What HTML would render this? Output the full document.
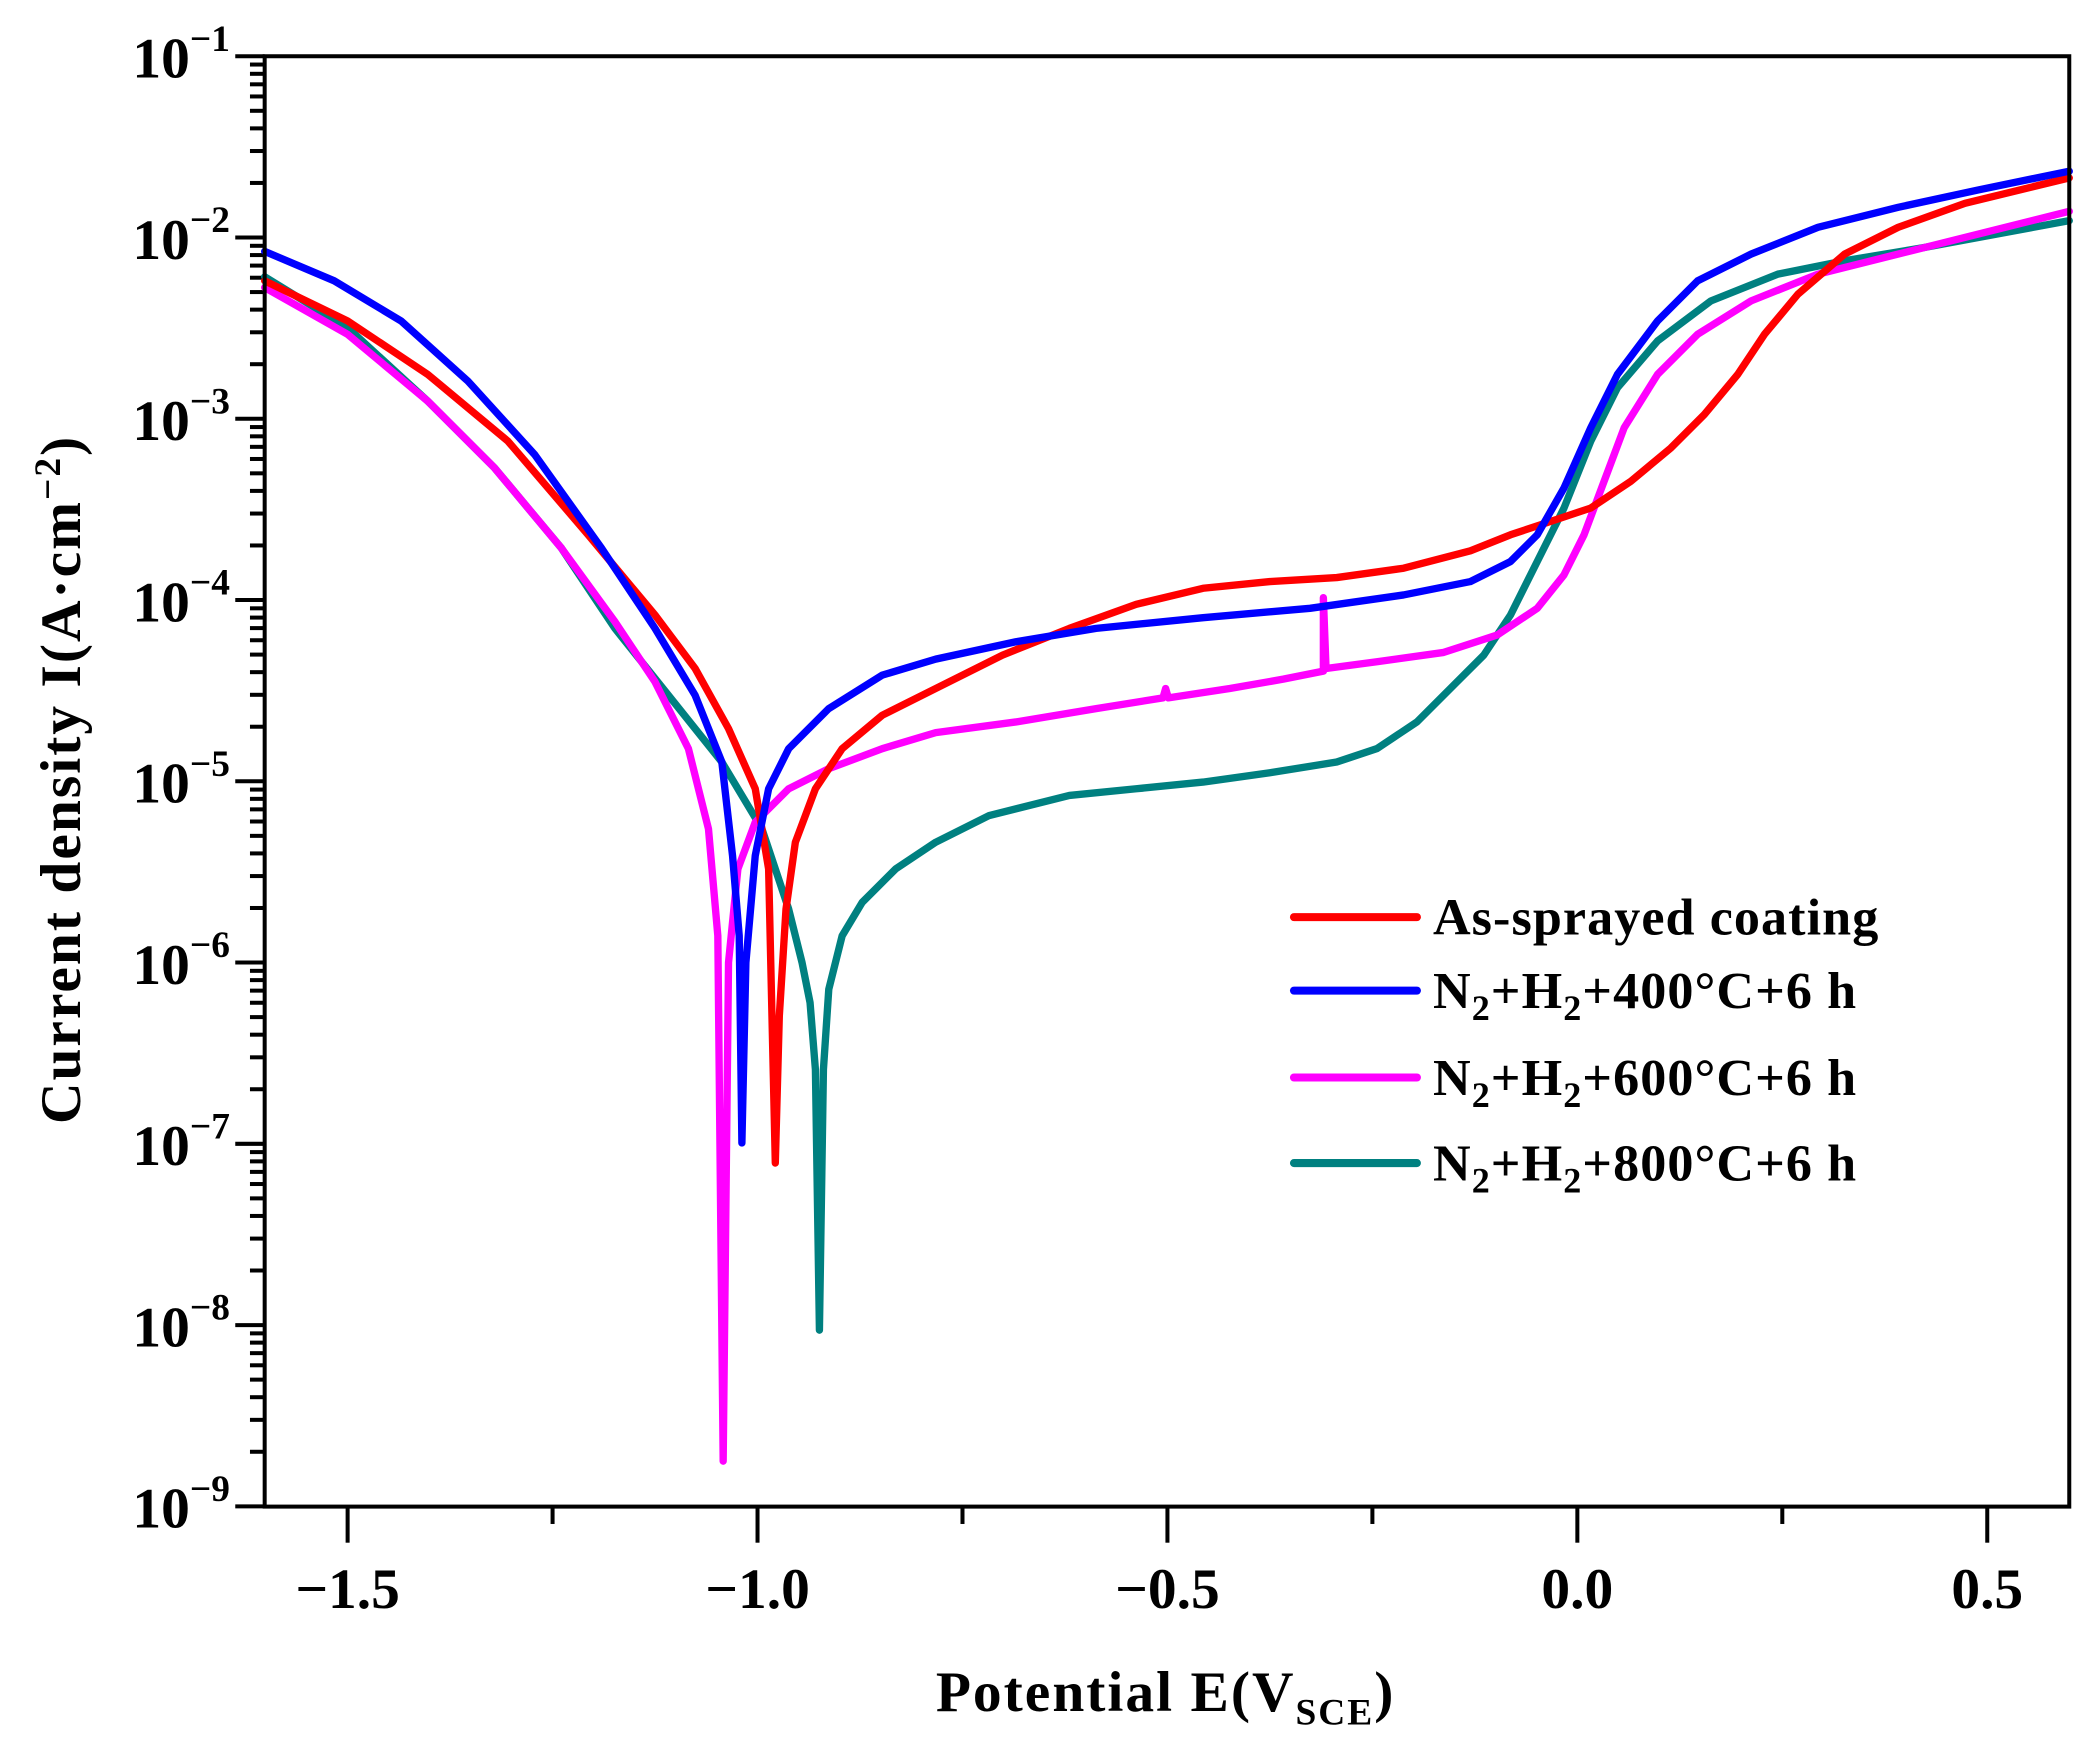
<!DOCTYPE html>
<html><head><meta charset="utf-8"><style>
html,body{margin:0;padding:0;background:#fff;}
svg{display:block;}
text{font-family:"Liberation Serif",serif;font-weight:bold;fill:#000;}
</style></head><body>
<svg id="s" width="2096" height="1754" viewBox="0 0 1568 1312" xmlns="http://www.w3.org/2000/svg">
<g id="ticks" stroke="#000" stroke-width="3"></g>
<g fill="none" stroke-width="5.5" stroke-linejoin="round" stroke-linecap="round">
<polyline stroke="#008080" points="198,207 260,245 320,300 370,350 420,410 460,470 500,520 540,570 570,620 590,680 600,720 606,750 610,800 613,995 616,800 620,740 630,700 645,675 670,650 700,630 740,610 800,595 850,590 900,585 950,578 1000,570 1030,560 1060,540 1090,510 1110,490 1130,460 1150,420 1170,380 1190,330 1210,290 1240,255 1280,225 1330,205 1380,195 1440,185 1548,165"/>
<polyline stroke="#ff00ff" points="198,215 260,250 320,300 370,350 420,410 460,465 490,510 515,560 530,620 537,700 541,1093 545,720 552,650 565,615 590,590 620,575 660,560 700,548 760,540 820,530 870,522 872,515 874,522 920,515 960,508 990,502 990,447 992,500 1030,495 1080,488 1120,475 1150,455 1170,430 1185,400 1200,360 1215,320 1240,280 1270,250 1310,225 1360,205 1420,190 1548,158"/>
<polyline stroke="#ff0000" points="198,210 260,240 320,280 380,330 440,400 490,460 520,500 545,545 565,590 575,650 580,870 583,760 588,680 595,630 610,590 630,560 660,535 700,515 750,490 800,470 850,452 900,440 950,435 1000,432 1050,425 1100,412 1130,400 1160,390 1190,380 1220,360 1250,335 1275,310 1300,280 1320,250 1345,220 1380,190 1420,170 1470,152 1548,133"/>
<polyline stroke="#0000ff" points="198,188 250,210 300,240 350,285 400,340 450,410 490,470 520,520 540,570 548,640 553,700 555,855 558,720 565,640 575,590 590,560 620,530 660,505 700,493 760,480 820,470 900,462 980,455 1050,445 1100,435 1130,420 1150,400 1170,365 1190,320 1210,280 1240,240 1270,210 1310,190 1360,170 1420,155 1480,142 1548,128"/>
</g>
<rect x="198" y="42" width="1350" height="1085" fill="none" stroke="#000" stroke-width="3"/>
<g id="labels"></g>
<text transform="translate(60,583) rotate(-90)" text-anchor="middle" font-size="43" letter-spacing="1.5">Current density I(A·cm<tspan dy="-15" font-size="28">−2</tspan><tspan dy="15">)</tspan></text>
<text x="872" y="1280" text-anchor="middle" font-size="43" letter-spacing="1.5">Potential E(V<tspan dy="10" font-size="28">SCE</tspan><tspan dy="-10">)</tspan></text>
<g stroke-width="6" stroke-linecap="round">
<line x1="968" y1="686" x2="1060" y2="686" stroke="#ff0000"/>
<line x1="968" y1="741" x2="1060" y2="741" stroke="#0000ff"/>
<line x1="968" y1="806" x2="1060" y2="806" stroke="#ff00ff"/>
<line x1="968" y1="870" x2="1060" y2="870" stroke="#008080"/>
</g>
<g font-size="39" letter-spacing="0.8">
<text x="1072" y="699">As-sprayed coating</text>
<text x="1072" y="754">N<tspan dy="9" font-size="27">2</tspan><tspan dy="-9">+H</tspan><tspan dy="9" font-size="27">2</tspan><tspan dy="-9">+400°C+6 h</tspan></text>
<text x="1072" y="819">N<tspan dy="9" font-size="27">2</tspan><tspan dy="-9">+H</tspan><tspan dy="9" font-size="27">2</tspan><tspan dy="-9">+600°C+6 h</tspan></text>
<text x="1072" y="883">N<tspan dy="9" font-size="27">2</tspan><tspan dy="-9">+H</tspan><tspan dy="9" font-size="27">2</tspan><tspan dy="-9">+800°C+6 h</tspan></text>
</g>
</svg>
<script>
var NS="http://www.w3.org/2000/svg",t=document.getElementById("ticks"),L=document.getElementById("labels");
function ln(x1,y1,x2,y2){var l=document.createElementNS(NS,"line");l.setAttribute("x1",x1);l.setAttribute("y1",y1);l.setAttribute("x2",x2);l.setAttribute("y2",y2);t.appendChild(l);}
var y0=42,dec=135.6;
for(var d=1;d<=9;d++){var y=y0+(d-1)*dec;ln(176,y,198,y);
 var tx=document.createElementNS(NS,"text");tx.setAttribute("x",172);tx.setAttribute("y",y+16);tx.setAttribute("text-anchor","end");tx.setAttribute("font-size","43");
 tx.innerHTML='10<tspan dy="-20" font-size="28">−'+d+'</tspan>';L.appendChild(tx);
 if(d<9){for(var k=2;k<=9;k++){var yy=y0+d*dec-Math.log10(k)*dec;ln(187,yy,198,yy);}}}
var xs=function(e){return 1180+e*613.3;};
[-1.5,-1,-0.5,0,0.5].forEach(function(e,i){var x=xs(e);ln(x,1127,x,1154);
 var tx=document.createElementNS(NS,"text");tx.setAttribute("x",x);tx.setAttribute("y",1203);tx.setAttribute("text-anchor","middle");tx.setAttribute("font-size","43");
 tx.textContent=["−1.5","−1.0","−0.5","0.0","0.5"][i];L.appendChild(tx);});
[-1.25,-0.75,-0.25,0.25].forEach(function(e){var x=xs(e);ln(x,1127,x,1140);});
</script>
</body></html>
